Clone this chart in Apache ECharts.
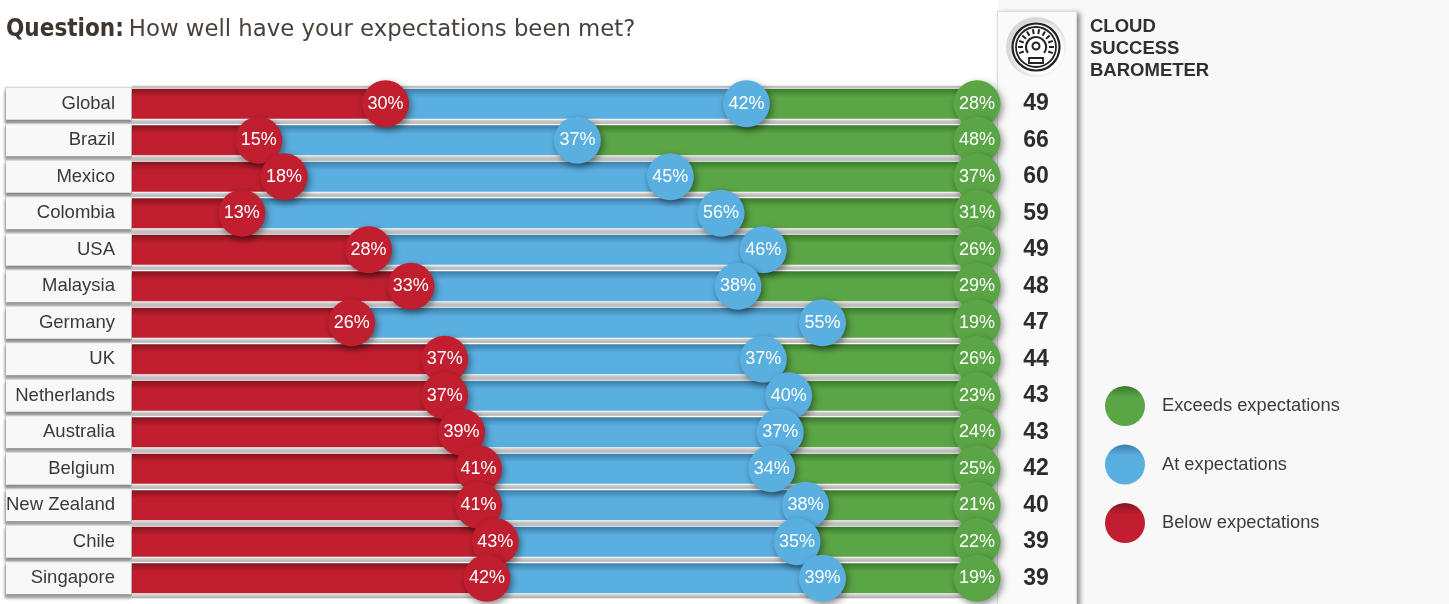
<!DOCTYPE html>
<html>
<head>
<meta charset="utf-8">
<title>Cloud success barometer</title>
<script src="https://cdn.jsdelivr.net/npm/echarts@6/dist/echarts.min.js"></script>
<style>
  html, body { margin: 0; padding: 0; background: #fff; }
  #side { position: absolute; left: 998px; top: 0; width: 451px; height: 604px; background: #f8f8f8; }
  #column { position: absolute; left: 997px; top: 11px; width: 78px; height: 593px; background: #fafafa;
    border: 1px solid #ddd; border-bottom: 0; box-shadow: 3px 2px 5px rgba(0,0,0,.45); }
  #chart { position: absolute; left: 0; top: 0; width: 1449px; height: 604px; }
</style>
</head>
<body>
<div id="side"></div>
<div id="column"></div>
<div id="chart"></div>
<script>
const countries = ['Global', 'Brazil', 'Mexico', 'Colombia', 'USA', 'Malaysia', 'Germany', 'UK', 'Netherlands', 'Australia', 'Belgium', 'New Zealand', 'Chile', 'Singapore'];
const below = [30, 15, 18, 13, 28, 33, 26, 37, 37, 39, 41, 41, 43, 42];
const at = [42, 37, 45, 56, 46, 38, 55, 37, 40, 37, 34, 38, 35, 39];
const exceeds = [28, 48, 37, 31, 26, 29, 19, 26, 23, 24, 25, 21, 22, 19];
const barometer = [49, 66, 60, 59, 49, 48, 47, 44, 43, 43, 42, 40, 39, 39];

const RED = '#c11f2f', BLUE = '#5aafe1', GREEN = '#5aa545';
const RED_DARK = '#84141f', BLUE_DARK = '#3b7ea8', GREEN_DARK = '#3a7a2c';

function shaded(dark, base) {
  return {
    type: 'linear', x: 0, y: 0, x2: 0, y2: 1,
    colorStops: [{ offset: 0, color: dark }, { offset: 0.28, color: base }, { offset: 1, color: base }]
  };
}

function barSeries(name, values, dark, base) {
  return {
    name: name,
    type: 'bar',
    stack: 'total',
    barWidth: 30,
    z: 3,
    data: values,
    itemStyle: { color: shaded(dark, base) },
    silent: true
  };
}

// circle sits on the right end of the stacked segment
function circleSeries(name, values, ends, color, shiftX) {
  return {
    name: name,
    type: 'scatter',
    symbol: 'circle',
    symbolSize: 47,
    symbolOffset: [shiftX, 0],
    z: 5,
    data: ends.map((e, i) => [e, i]),
    itemStyle: { color: color, opacity: 1, shadowColor: 'rgba(0,0,0,.45)', shadowBlur: 7, shadowOffsetX: 2, shadowOffsetY: 3 },
    label: {
      show: true, position: 'inside', color: '#fff', fontSize: 18,
      fontFamily: 'Liberation Sans',
      formatter: p => values[p.dataIndex] + '%'
    }
  };
}

const belowEnds = below;
const atEnds = below.map((v, i) => v + at[i]);
const exceedsEnds = atEnds.map((v, i) => v + exceeds[i]);

// gauge icon above the barometer column
const ticks = [];
for (let a = -200; a <= 20; a += 20) {
  const r = a * Math.PI / 180;
  ticks.push({
    type: 'line',
    shape: { x1: Math.cos(r) * 13, y1: Math.sin(r) * 13, x2: Math.cos(r) * 18, y2: Math.sin(r) * 18 },
    style: { stroke: '#222', lineWidth: 2 }
  });
}
const gauge = {
  type: 'group',
  x: 1036, y: 47,
  children: [
    { type: 'circle', shape: { r: 30 }, style: { fill: {
      type: 'radial', x: 0.55, y: 0.55, r: 0.5,
      colorStops: [{ offset: 0, color: '#fff' }, { offset: 0.78, color: '#fff' }, { offset: 1, color: '#d8d8d8' }]
    } } },
    { type: 'circle', shape: { r: 23.5 }, style: { fill: 'none', stroke: '#222', lineWidth: 2.2 } },
    { type: 'circle', shape: { r: 20 }, style: { fill: 'none', stroke: '#222', lineWidth: 1.8 } },
    ...ticks,
    { type: 'arc', shape: { r: 10, startAngle: Math.PI * 0.8, endAngle: Math.PI * 2.2 }, style: { fill: 'none', stroke: '#222', lineWidth: 2 } },
    { type: 'circle', shape: { cy: -1, r: 3.5 }, style: { fill: 'none', stroke: '#222', lineWidth: 2 } },
    { type: 'rect', shape: { x: -7, y: 11, width: 14, height: 5 }, style: { fill: '#fff', stroke: '#222', lineWidth: 1.8 } }
  ]
};

const chart = echarts.init(document.getElementById('chart'));
chart.setOption({
  animation: false,
  backgroundColor: 'transparent',
  title: [
    {
      left: 6, top: 18, padding: 0,
      text: '{q|Question:} {t|How well have your expectations been met?}',
      textStyle: {
        rich: {
          q: { fontFamily: 'DejaVu Sans Condensed', fontWeight: 'bold', fontSize: 24, color: '#3e362e' },
          t: { fontFamily: 'DejaVu Sans', fontWeight: 'normal', fontSize: 22.8, color: '#4a423a' }
        }
      }
    },
    {
      left: 1090, top: 16, padding: 0,
      text: 'CLOUD\nSUCCESS\nBAROMETER',
      textStyle: { fontFamily: 'Liberation Sans', fontWeight: 'bold', fontSize: 18.5, lineHeight: 22, color: '#2f3033' }
    }
  ],
  legend: {
    orient: 'vertical',
    left: 1105, top: 386, padding: 0,
    itemWidth: 40, itemHeight: 40, itemGap: 18.5,
    selectedMode: false,
    textStyle: { fontFamily: 'Liberation Sans', fontSize: 18.3, color: '#3c3c3c', padding: [0, 0, 0, 12] },
    data: [
      { name: 'Exceeds expectations', icon: 'circle', itemStyle: { color: shaded(GREEN_DARK, GREEN), opacity: 1, shadowBlur: 0, shadowOffsetX: 0, shadowOffsetY: 0 } },
      { name: 'At expectations', icon: 'circle', itemStyle: { color: shaded(BLUE_DARK, BLUE), opacity: 1, shadowBlur: 0, shadowOffsetX: 0, shadowOffsetY: 0 } },
      { name: 'Below expectations', icon: 'circle', itemStyle: { color: shaded(RED_DARK, RED), opacity: 1, shadowBlur: 0, shadowOffsetX: 0, shadowOffsetY: 0 } }
    ]
  },
  graphic: [gauge],
  grid: { left: 132, right: 472, top: 85.5, bottom: 7.5 },
  xAxis: { type: 'value', min: 0, max: 100, show: false },
  yAxis: [
    {
      type: 'category',
      inverse: true,
      data: countries,
      axisLine: { show: false },
      axisTick: { show: false },
      axisLabel: {
        margin: 1,
        width: 109, height: 32,
        lineHeight: 32,
        padding: [0, 16, 0, 0],
        align: 'right',
        overflow: 'none',
        fontFamily: 'Liberation Sans',
        fontSize: 18.5,
        color: '#3a3a3a',
        backgroundColor: '#f8f8f8',
        borderColor: '#ccc',
        borderWidth: 1,
        shadowColor: 'rgba(0,0,0,.4)',
        shadowBlur: 3,
        shadowOffsetY: 3
      }
    },
    {
      type: 'category',
      inverse: true,
      position: 'right',
      data: barometer,
      axisLine: { show: false },
      axisTick: { show: false },
      axisLabel: {
        margin: 59,
        align: 'center',
        fontFamily: 'Liberation Sans',
        fontWeight: 'bold',
        fontSize: 23,
        color: '#2b2c30'
      }
    }
  ],
  series: [
    {
      // grey rail behind each stacked bar
      type: 'custom',
      silent: true,
      z: 1,
      data: countries.map((c, i) => [0, i]),
      renderItem: function (params, api) {
        const start = api.coord([0, api.value(1)]);
        const end = api.coord([100, api.value(1)]);
        return {
          type: 'rect',
          shape: { x: start[0], y: start[1] - 18, width: end[0] - start[0], height: 38 },
          style: {
            fill: {
              type: 'linear', x: 0, y: 0, x2: 0, y2: 1,
              colorStops: [
                { offset: 0, color: '#bdbdbd' }, { offset: 0.05, color: '#c4c4c4' },
                { offset: 0.05, color: '#fff' }, { offset: 0.88, color: '#fff' },
                { offset: 0.9, color: '#d8d8d8' }, { offset: 1, color: '#a8a8a8' }
              ]
            }
          }
        };
      }
    },
    barSeries('Below bar', below, RED_DARK, RED),
    barSeries('At bar', at, BLUE_DARK, BLUE),
    barSeries('Exceeds bar', exceeds, GREEN_DARK, GREEN),
    circleSeries('Below expectations', below, belowEnds, RED, 0),
    circleSeries('At expectations', at, atEnds, BLUE, 6),
    circleSeries('Exceeds expectations', exceeds, exceedsEnds, GREEN, 0)
  ]
});
</script>
</body>
</html>
